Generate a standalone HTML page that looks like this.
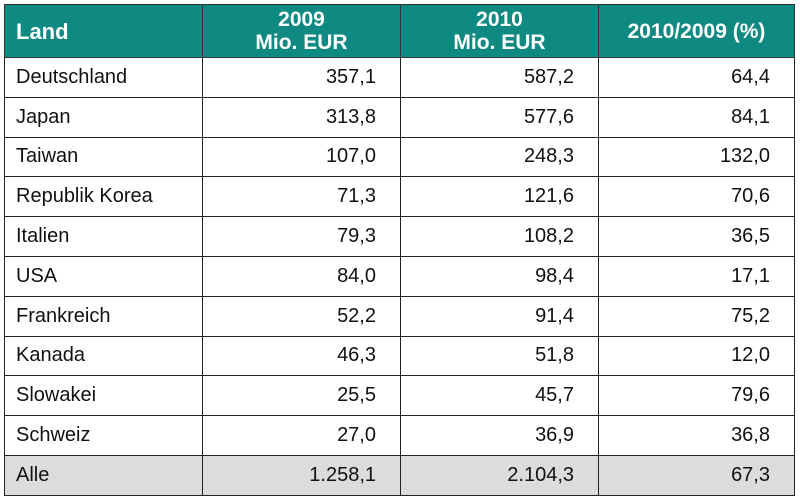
<!DOCTYPE html>
<html><head><meta charset="utf-8"><style>
body{margin:0;width:800px;height:502px;background:#fff;font-family:"Liberation Sans",Arial,sans-serif;overflow:hidden}
table{position:absolute;left:4px;top:4px;width:790px;border-collapse:collapse;table-layout:fixed}
td,th{border:1.5px solid #222;font-size:20px;color:#111;padding:0}
th{background:#0e8a82;color:#fff;font-weight:bold;font-size:21px;height:52px;line-height:23px;border-color:#333}
th.l{text-align:left;padding-left:11px;font-size:22px}
td{height:38.8px}
td.l{padding-left:11px}
td.n{text-align:right;padding-right:24px}
tr.sum td{background:#dcdcdc}
</style></head><body>
<table>
<colgroup><col style="width:198px"><col style="width:198px"><col style="width:198px"><col style="width:196px"></colgroup>
<tr><th class="l">Land</th><th>2009<br>Mio. EUR</th><th>2010<br>Mio. EUR</th><th>2010/2009 (%)</th></tr>
<tr><td class="l">Deutschland</td><td class="n">357,1</td><td class="n">587,2</td><td class="n">64,4</td></tr>
<tr><td class="l">Japan</td><td class="n">313,8</td><td class="n">577,6</td><td class="n">84,1</td></tr>
<tr><td class="l">Taiwan</td><td class="n">107,0</td><td class="n">248,3</td><td class="n">132,0</td></tr>
<tr><td class="l">Republik Korea</td><td class="n">71,3</td><td class="n">121,6</td><td class="n">70,6</td></tr>
<tr><td class="l">Italien</td><td class="n">79,3</td><td class="n">108,2</td><td class="n">36,5</td></tr>
<tr><td class="l">USA</td><td class="n">84,0</td><td class="n">98,4</td><td class="n">17,1</td></tr>
<tr><td class="l">Frankreich</td><td class="n">52,2</td><td class="n">91,4</td><td class="n">75,2</td></tr>
<tr><td class="l">Kanada</td><td class="n">46,3</td><td class="n">51,8</td><td class="n">12,0</td></tr>
<tr><td class="l">Slowakei</td><td class="n">25,5</td><td class="n">45,7</td><td class="n">79,6</td></tr>
<tr><td class="l">Schweiz</td><td class="n">27,0</td><td class="n">36,9</td><td class="n">36,8</td></tr>
<tr class="sum"><td class="l">Alle</td><td class="n">1.258,1</td><td class="n">2.104,3</td><td class="n">67,3</td></tr>
</table>
</body></html>
